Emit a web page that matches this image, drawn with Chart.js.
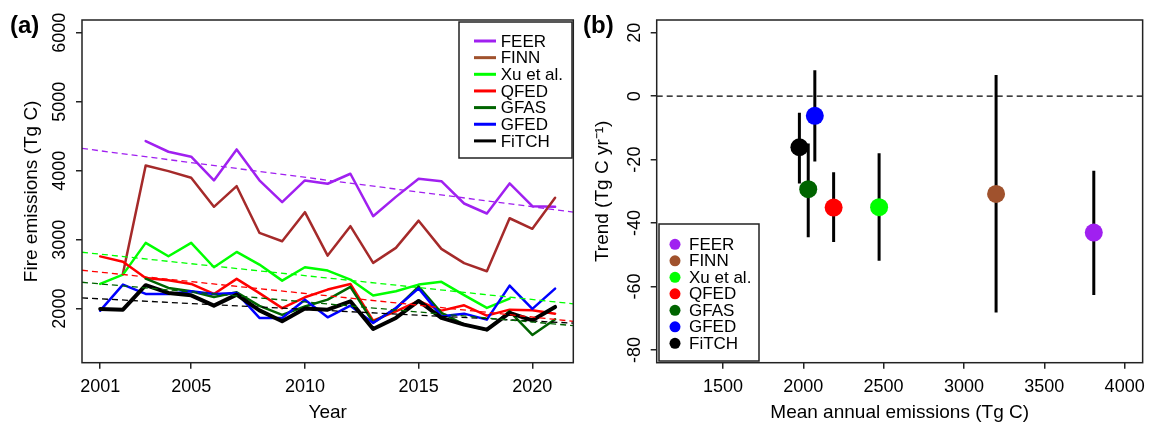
<!DOCTYPE html>
<html><head><meta charset="utf-8">
<script src="https://cdn.jsdelivr.net/npm/chart.js@4.4.1/dist/chart.umd.min.js"></script>
<style>
html,body{margin:0;padding:0;background:#fff;}
#wrap{position:relative;width:1153px;height:424px;overflow:hidden;}
canvas{position:absolute;top:0;}
#ca{left:0;} #cb{left:578px;}
</style></head><body>
<div id="wrap"><canvas id="ca" width="578" height="424"></canvas><canvas id="cb" width="575" height="424"></canvas></div>
<script>
// ---------- Panel (a) data ----------
const years = [2001,2002,2003,2004,2005,2006,2007,2008,2009,2010,2011,2012,2013,2014,2015,2016,2017,2018,2019,2020,2021];
const names = ["FEER","FINN","Xu et al.","QFED","GFAS","GFED","FiTCH"];
const FEER  = [null,null,4428,4274,4202,3858,4308,3860,3543,3858,3810,3955,3340,3620,3882,3848,3524,3379,3815,3485,3476];
const FINN  = [null,2508,4075,3993,3897,3476,3775,3099,2977,3398,2769,3195,2663,2881,3275,2866,2660,2541,3310,3157,3606];
const XU    = [2358,2493,2953,2759,2953,2600,2822,2639,2406,2600,2552,2421,2189,2251,2348,2388,2196,2010,2145,null,null];
const QFED  = [2757,2680,2445,2411,2358,2213,2431,2225,2007,2164,2276,2358,1826,1961,2111,1971,2048,1898,1985,1975,1927];
const GFAS  = [null,null,2435,2300,2251,2169,2237,2040,1910,2030,2130,2315,1800,2000,2320,1940,1768,1690,1961,1618,1845];
const GFED  = [1970,2348,2213,2213,2251,2213,2227,1865,1865,2130,1874,2043,1792,2010,2293,1889,1927,1840,2334,1996,2290];
const FITCH = [1996,1985,2340,2227,2193,2043,2203,1975,1816,2000,1985,2106,1705,1865,2111,1865,1768,1695,1937,1830,2024];
// dashed linear trends: value at left and right edge of the year axis (null = not drawn)
const trendLeft  = [4322, null, 2817, 2556, 2382, null, 2155];
const trendRight = [3400, null, 2070, 1816, 1753, null, 1790];
const xTicksA = [2001, 2005, 2010, 2015, 2020];
const yTicksA = [2000, 3000, 4000, 5000, 6000];
const xLimA = [2000.2, 2021.8];
const yLimA = [1216, 6184];

// ---------- Panel (b) data ----------
const meanEm  = [3808, 3200, 2472, 2189, 2031, 2072, 1976];
const trendB  = [-43.0, -30.8, -35.0, -35.1, -29.3, -6.2, -16.1];
const ciLow   = [-62.7, -68.2, -51.9, -46.0, -44.5, -20.6, -27.5];
const ciHigh  = [-23.5, 6.7, -18.0, -24.0, -14.9, 8.2, -5.2];
const xTicksB = [1500, 2000, 2500, 3000, 3500, 4000];
const yTicksB = [20, 0, -20, -40, -60, -80];
const xLimB = [1088, 4112];
const yLimB = [-84, 24];

// ---------- styles ----------
const lineColors   = ["#A020F0","#A52A2A","#00FF00","#FF0000","#006400","#0000FF","#000000"];
const legendColors = ["#A020F0","#A0522D","#00FF00","#FF0000","#006400","#0000FF","#000000"];
const series = [FEER, FINN, XU, QFED, GFAS, GFED, FITCH];

Chart.defaults.font.family = '"Liberation Sans", Arial, Helvetica, sans-serif';
Chart.defaults.font.size = 18;
Chart.defaults.color = '#000';

const AX = '#222';
const titleFont = {size:19};
function gridOpts(){ return {display:true, drawOnChartArea:false, drawTicks:true, tickLength:6, color:AX, lineWidth:1.5}; }

function makePlugin(cfg){
  return {
    id:'deco',
    afterDatasetsDraw(chart){
      const {ctx, chartArea:a} = chart;
      ctx.save();
      ctx.strokeStyle = AX; ctx.lineWidth = 1.5;
      ctx.strokeRect(a.left, a.top, a.right-a.left, a.bottom-a.top);
      // legend
      const L = cfg.legend;
      ctx.fillStyle = '#fff';
      ctx.fillRect(L.x, L.y, L.w, L.h);
      ctx.strokeStyle = '#222'; ctx.lineWidth = 1.5;
      ctx.strokeRect(L.x, L.y, L.w, L.h);
      ctx.font = '17px "Liberation Sans", Arial, sans-serif';
      ctx.textBaseline = 'middle'; ctx.textAlign = 'left';
      names.forEach((n,i)=>{
        const y = L.row0 + i*L.dy;
        if (L.kind === 'line'){
          ctx.strokeStyle = legendColors[i]; ctx.lineWidth = 3; ctx.lineCap='butt';
          ctx.beginPath(); ctx.moveTo(L.s0, y); ctx.lineTo(L.s1, y); ctx.stroke();
        } else {
          ctx.fillStyle = legendColors[i];
          ctx.beginPath(); ctx.arc(L.s0, y, 5.5, 0, Math.PI*2); ctx.fill();
        }
        ctx.fillStyle = '#000';
        ctx.fillText(n, L.tx, y+1);
      });
      // panel label
      ctx.font = 'bold 24px "Liberation Sans", Arial, sans-serif';
      ctx.fillStyle = '#000'; ctx.textBaseline='middle';
      ctx.fillText(cfg.panel, cfg.px, 26);
      ctx.restore();
    }
  };
}

// ---------- Chart (a) ----------
const dsA = [];
series.forEach((s,i)=>{
  dsA.push({
    label: names[i],
    data: years.map((yr,k)=>({x:yr, y:s[k]})),
    borderColor: lineColors[i], backgroundColor: lineColors[i],
    borderWidth: i===6 ? 4 : 2.5,
    pointRadius: 0, tension: 0, spanGaps: false,
    borderJoinStyle:'round', borderCapStyle:'round',
    order: 10 - i
  });
});
series.forEach((s,i)=>{
  if (trendLeft[i] === null) return;
  dsA.push({
    label: names[i] + ' trend',
    data: [{x:xLimA[0], y:trendLeft[i]}, {x:xLimA[1], y:trendRight[i]}],
    borderColor: lineColors[i], borderWidth: 1.3, borderDash:[6,4],
    pointRadius: 0, tension: 0, order: 0
  });
});

new Chart(document.getElementById('ca'), {
  type:'line',
  data:{datasets: dsA},
  options:{
    responsive:false, animation:false, devicePixelRatio:1, events:[],
    layout:{padding:{left:0, top:20, right:4.7, bottom:0}},
    plugins:{legend:{display:false}, tooltip:{enabled:false}},
    scales:{
      x:{type:'linear', min:xLimA[0], max:xLimA[1],
        afterBuildTicks: s => { s.ticks = xTicksA.map(v=>({value:v})); },
        afterFit: s => { s.height = 61.3; },
        grid: gridOpts(), border:{display:false},
        ticks:{autoSkip:false, minRotation:0, maxRotation:0, padding:8, callback:v=>String(v)},
        title:{display:true, text:'Year', font:titleFont, padding:{top:0,bottom:0}}
      },
      y:{type:'linear', min:yLimA[0], max:yLimA[1],
        afterBuildTicks: s => { s.ticks = yTicksA.map(v=>({value:v})); },
        afterFit: s => { s.width = 82; },
        grid: gridOpts(), border:{display:false},
        ticks:{autoSkip:false, minRotation:90, maxRotation:90, crossAlign:'center', padding:-4, callback:v=>String(v)},
        title:{display:true, text:'Fire emissions (Tg C)', font:titleFont, padding:{top:20.6,bottom:0}}
      }
    }
  },
  plugins:[makePlugin({panel:'(a)', px:10, legend:{kind:'line', x:459, y:22, w:113, h:136, row0:41, dy:16.65, s0:474, s1:496, tx:500.7}})]
});

// ---------- Chart (b) ----------
const dsB = [];
dsB.push({
  label:'points',
  data: meanEm.map((x,i)=>({x:x, y:trendB[i]})),
  showLine:false, pointRadius:9, pointBorderWidth:0,
  pointBackgroundColor: legendColors, pointBorderColor: legendColors,
  order:0
});
meanEm.forEach((x,i)=>{
  dsB.push({
    label: names[i]+' range',
    data:[{x:x, y:ciLow[i]}, {x:x, y:ciHigh[i]}],
    borderColor:'#000', borderWidth:3, pointRadius:0, borderCapStyle:'butt', order:1
  });
});
dsB.push({
  label:'zero',
  data:[{x:xLimB[0], y:0}, {x:xLimB[1], y:0}],
  borderColor:'#000', borderWidth:1.3, borderDash:[6,4], pointRadius:0, order:2
});

new Chart(document.getElementById('cb'), {
  type:'line',
  data:{datasets: dsB},
  options:{
    responsive:false, animation:false, devicePixelRatio:1, events:[],
    layout:{padding:{left:0, top:20, right:4.7, bottom:0}},
    plugins:{legend:{display:false}, tooltip:{enabled:false}},
    scales:{
      x:{type:'linear', min:xLimB[0], max:xLimB[1],
        afterBuildTicks: s => { s.ticks = xTicksB.map(v=>({value:v})); },
        afterFit: s => { s.height = 61.3; },
        grid: gridOpts(), border:{display:false},
        ticks:{autoSkip:false, minRotation:0, maxRotation:0, padding:8, callback:v=>String(v)},
        title:{display:true, text:'Mean annual emissions (Tg C)', font:titleFont, padding:{top:0,bottom:0}}
      },
      y:{type:'linear', min:yLimB[0], max:yLimB[1],
        afterBuildTicks: s => { s.ticks = yTicksB.map(v=>({value:v})); },
        afterFit: s => { s.width = 78.7; },
        grid: gridOpts(), border:{display:false},
        ticks:{autoSkip:false, minRotation:90, maxRotation:90, crossAlign:'center', padding:2.7, callback:v=>String(v)},
        title:{display:true, text:'Trend (Tg C yr\u207B\u00B9)', font:titleFont, padding:{top:13.6,bottom:0}}
      }
    }
  },
  plugins:[makePlugin({panel:'(b)', px:5, legend:{kind:'dot', x:81, y:224, w:100, h:137, row0:244.3, dy:16.5, s0:97, tx:111}})]
});
</script>
</body></html>
